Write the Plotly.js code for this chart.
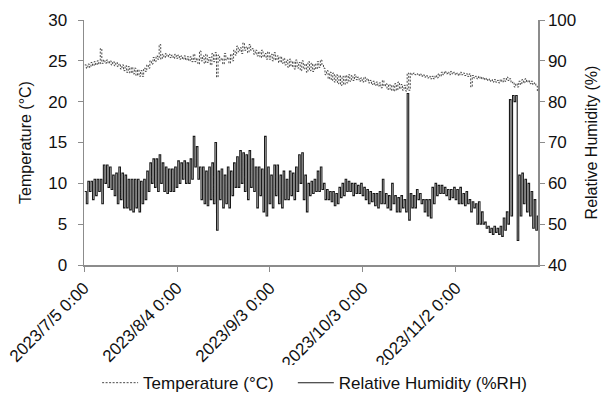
<!DOCTYPE html>
<html>
<head>
<meta charset="utf-8">
<script src="https://cdn.plot.ly/plotly-3.0.1.min.js"></script>
<style>html,body{margin:0;padding:0;background:#fff;}#chart{width:605px;height:405px;}</style>
</head>
<body>
<div id="chart"></div>
<script>
// Daily readings starting 2023/7/5 (one entry per day)
const startDate = "2023-07-05";
const tickVals = ["2023-07-05", "2023-08-04", "2023-09-03", "2023-10-03", "2023-11-02"];
const tickText = ["2023/7/5 0:00", "2023/8/4 0:00", "2023/9/3 0:00", "2023/10/3 0:00", "2023/11/2 0:00"];

// Relative humidity (%RH), daily high / low
const hHi = [58,60.5,60.5,61,61,61,64.5,64.5,64,62,
  62.5,64,62.5,62,61,61,61,61,60.5,61,
  63,65,66,66,67,65,64,63.5,63.5,64,
  65.5,65,65.5,65,66,71.5,69,64,64,63,
  64,65,70,63,63.5,62,64,63,65,66.5,
  68,67.5,67,68,66,64,64,63.5,71.5,64,
  62,64.5,64.5,62,63,61,63,62.5,64,67,
  67.5,62,60,60.5,61,63,64,60,58.5,58,
  58,57.5,59,60,61,60.5,60,60,59.5,60,
  59,58.5,58,57.5,57.5,58,61,57.5,57,60,
  57,56.5,57,56,82,57.5,57,58.5,57.5,56,
  56,56,59,60,59.5,59.5,59,58.5,58.5,59,
  58.5,59,57.5,58,56,55.5,55,55.5,53,50.5,
  49.5,49,49.5,49,49.5,51.5,53,80.5,81.5,81.5,
  62,62.5,61,60,58,56,52];
const hLo = [55,58,56,57,58,55,60,59,58.5,57,
  55,56,54,54,53.5,53,54,53,55,56,
  58,60,59,58,60,58,57.5,58,58,59,
  60,61,60,60,61,64,61,56,55,54.5,
  56,55,48.5,56,54,55,54,57,59,59,
  60,58,56,59,58,54,57,53,52,55,
  54,57,55,54,56,56,57,56,58,60,
  56,53,57,57.5,58,58,58.5,56,56,55.5,
  54.5,55,56.5,57,58,58,57,57.5,57.5,57,
  56,55,55.5,54.5,54,55,55,54,53.5,55,
  53,53,54,53,51,54,54,56,55,53,
  52,51.5,55,57,57.5,57.5,57,56,56.5,56,
  55,55,54.5,55,53,54,50,50,50,49,
  48,47.5,48,47.5,47,48.5,50,52,80,46,
  52,55,53,52,49,48.5,49];

// Temperature (°C), daily high / low
const tHi = [24.5,24.6,24.8,24.9,25.0, 26.5, 25.1,25.1,25.0,24.9,24.8,
  24.6,24.5,24.4,24.3,24.2,24.1,23.9,23.8, 24.1,24.5,25.0,25.4, 25.6,27.0,
  25.8,25.9,25.8,25.7,25.8,25.7,25.6,25.6,25.5,25.5,
  25.8,25.3,26.2,25.6,25.8,25.4,25.9, 26.0, 25.7,25.3,25.9,25.4,25.8,
  26.3,26.8,26.6,27.2,26.7,27.0,26.5,
  26.3,26.1,26.3,25.9,26.1,25.8,26.0,25.6,25.5,
  25.3,25.1,25.2,24.9,25.1,24.8,25.0,24.6,24.9,24.7,
  24.6,24.9,25.1,
  24.1,23.8,23.6,23.5,23.3,23.2,23.1,23.2,23.3,
  23.2,23.3,23.0,22.9,23.0,22.8,
  22.6,22.5,22.4,22.3,22.6,22.2,22.1,22.0,22.2,22.4,22.1,22.0,
  23.5,
  23.5,23.5,23.4,23.4,23.3,23.2,23.1,23.1,23.2,23.4,23.6,
  23.7,23.6,23.7,23.6,23.5,23.6,23.5,23.4,
  23.4,
  23.2,23.1,23.1,23.0,22.9,22.8,22.7,22.7,22.6,22.7,22.8,
  23.0,22.8,22.4,22.2,22.5,
  22.7,22.8,22.6,22.5,22.3,
  21.2];
const tLo = [24.1,24.2,24.4,24.5,24.6, 24.7, 24.7,24.7,24.5,24.4,24.3,
  24.0,23.8,23.6,23.5,23.4,23.2,23.1,23.1, 23.7,24.1,24.6,24.9, 25.2,25.2,
  25.4,25.5,25.4,25.3,25.3,25.2,25.2,25.1,25.0,24.9,
  24.9,24.6,25.0,24.7,24.8,24.5,24.9, 23.0, 25.0,24.6,25.1,24.7,25.0,
  25.7,26.1,25.9,26.3,26.0,26.3,25.8,
  25.6,25.4,25.5,25.2,25.2,25.0,25.1,24.8,24.7,
  24.5,24.2,24.3,24.0,24.1,23.8,24.0,23.6,23.8,23.7,
  24.0,24.2,24.5,
  23.3,22.8,22.6,22.4,22.2,22.0,22.1,22.3,22.5,
  22.6,22.7,22.5,22.4,22.5,22.3,
  22.1,22.0,21.9,21.7,21.9,21.5,21.4,21.3,21.4,21.6,21.4,21.3,
  21.4,
  23.3,23.3,23.2,23.1,23.0,22.9,22.8,22.8,22.9,23.1,23.3,
  23.4,23.3,23.4,23.3,23.2,23.3,23.2,23.1,
  21.8,
  22.9,22.8,22.8,22.7,22.6,22.5,22.4,22.4,22.3,22.4,22.5,
  22.6,22.3,21.8,21.8,22.1,
  22.3,22.4,22.2,22.1,21.9,
  20.2];

const DAY = 86400000;
const t0 = Date.parse(startDate + "T00:00:00Z");
function series(hi, lo) {
  const x = [], y = [];
  const n = Math.min(hi.length, lo.length);
  for (let d = 0; d < n; d++) {
    x.push(new Date(t0 + (d + 0.25) * DAY).toISOString().slice(0, 19).replace("T", " "));
    y.push(hi[d]);
    x.push(new Date(t0 + (d + 0.75) * DAY).toISOString().slice(0, 19).replace("T", " "));
    y.push(lo[d]);
  }
  return {x, y};
}
const T = series(tHi, tLo);
const H = series(hHi, hLo);

const FAM = "Liberation Sans, Arial, sans-serif";
const tick = {family: FAM, size: 17, color: "#111"};
const ttl = {family: FAM, size: 16, color: "#111"};
const leg = {family: FAM, size: 17, color: "#111"};
const axisCol = "#8c8c8c";

const traces = [
  {x: T.x, y: T.y, name: "Temperature (\u00b0C)\u00a0\u00a0\u00a0", type: "scatter", mode: "lines",
   line: {color: "#333", width: 0.9, dash: "2px,1.5px", shape: "hv"}, yaxis: "y"},
  {x: H.x, y: H.y, name: "Relative Humidity (%RH)", type: "scatter", mode: "lines",
   line: {color: "#1a1a1a", width: 1.1, shape: "hv"}, yaxis: "y2"}
];

const layout = {
  width: 605, height: 405,
  margin: {l: 84, r: 67, t: 20, b: 140},
  paper_bgcolor: "#fff", plot_bgcolor: "#fff",
  font: tick,
  showlegend: true,
  legend: {orientation: "h", x: 0.52, xanchor: "center", xref: "container",
           y: 0.054, yanchor: "middle", yref: "container",
           font: leg, itemwidth: 36},
  xaxis: {type: "date", range: ["2023-07-05 00:00", "2023-11-28 11:00"], automargin: false,
          tickvals: tickVals, ticktext: tickText, tickangle: -45,
          showline: true, linecolor: axisCol, linewidth: 1.5,
          ticks: "outside", ticklen: 5, tickcolor: axisCol,
          showgrid: false, zeroline: false, tickfont: tick},
  yaxis: {range: [0, 30], dtick: 5, tick0: 0, automargin: false,
          title: {text: "Temperature (\u00b0C)", font: ttl, standoff: 12},
          showline: true, linecolor: axisCol, linewidth: 1.5,
          ticks: "outside", ticklen: 5, tickcolor: axisCol, ticklabelstandoff: 7,
          showgrid: false, zeroline: false, tickfont: tick},
  yaxis2: {range: [40, 100], dtick: 10, tick0: 40, overlaying: "y", side: "right", automargin: false,
           title: {text: "Relative Humidity (%)", font: ttl, standoff: 10},
           showline: true, linecolor: axisCol, linewidth: 1.5,
           ticks: "outside", ticklen: 5, tickcolor: axisCol,
           showgrid: false, zeroline: false, tickfont: tick}
};

Plotly.newPlot("chart", traces, layout, {displayModeBar: false, staticPlot: true});
</script>
</body>
</html>
